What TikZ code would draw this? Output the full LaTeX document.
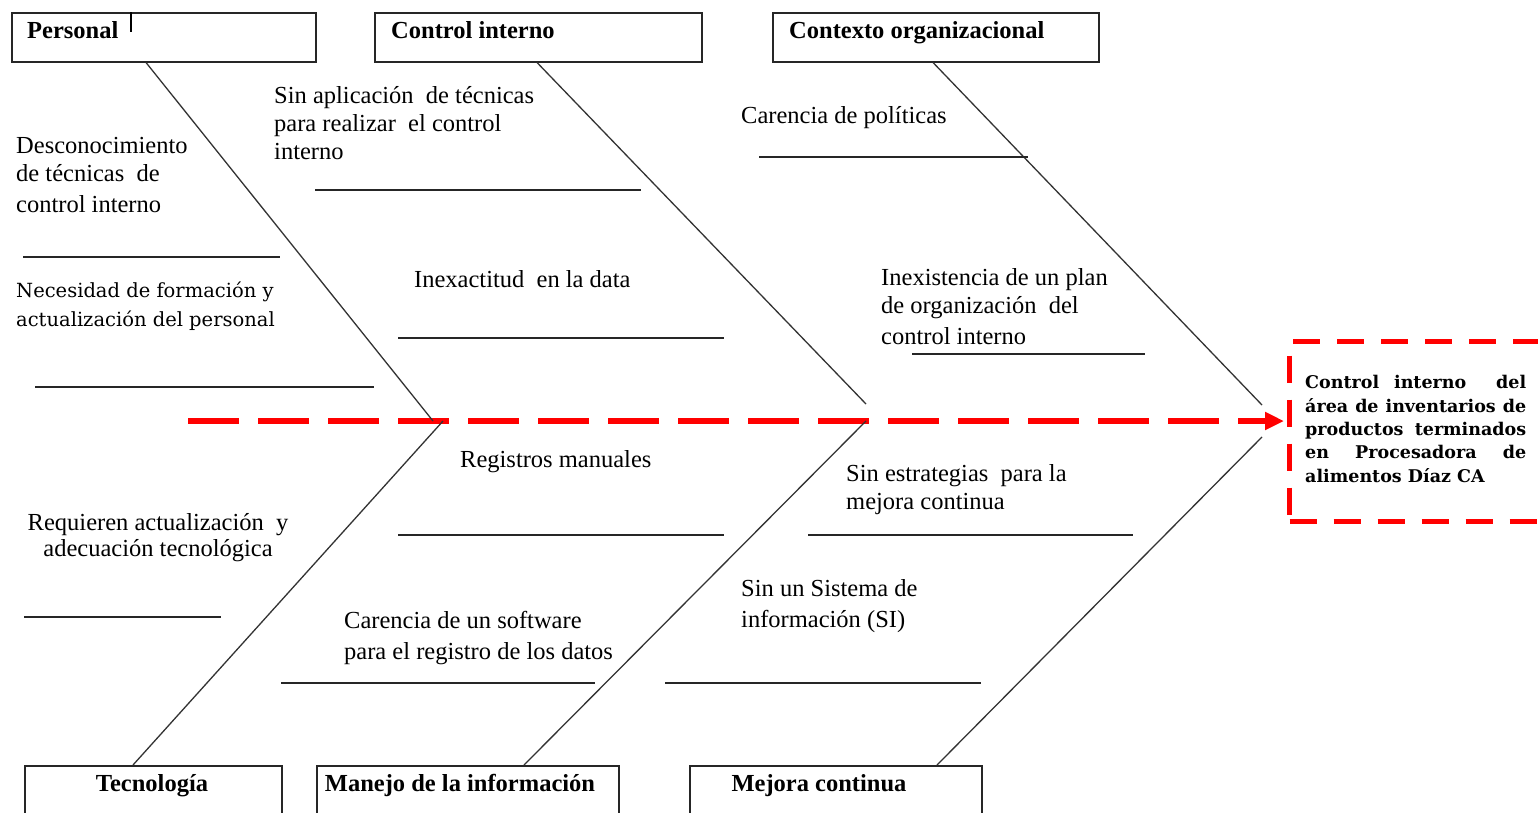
\documentclass[tikz,border=0pt]{standalone}
\usepackage{fontspec}
\setmainfont{Liberation Serif}
\newfontfamily\dvs{DejaVu Serif}
\usetikzlibrary{arrows.meta,calc}
\begin{document}
\begin{tikzpicture}[x=1pt,y=-1pt,
  box/.style={draw=black!85,line width=1.5pt,inner sep=0,anchor=north west},
  ttl/.style={font=\fontsize{24.5}{28}\selectfont\bfseries,anchor=base west,inner sep=0},
  txt/.style={font=\fontsize{24.5}{28}\selectfont,anchor=base west,align=left,inner sep=0},
  nec/.style={font=\dvs\fontsize{19.5}{29}\selectfont,anchor=base west,align=left,inner sep=0},
  bone/.style={draw=black!80,line width=1.3pt},
  sub/.style={draw=black!85,line width=1.5pt}]
\useasboundingbox (0,0) rectangle (1538,812);
\fill[white] (0,0) rectangle (1538,812);

% category boxes
\node[box,minimum width=304pt,minimum height=49pt] (pbox) at (11,12) {};
\node[box,minimum width=327pt,minimum height=49pt] (cbox) at (374,12) {};
\node[box,minimum width=326pt,minimum height=49pt] (obox) at (772,12) {};
\node[box,minimum width=257pt,minimum height=60pt] (tbox) at (24,765) {};
\node[box,minimum width=302pt,minimum height=60pt] (mbox) at (316,765) {};
\node[box,minimum width=292pt,minimum height=60pt] (ebox) at (689,765) {};

\node[ttl] (pt) at (27,38) {Personal};
\node[ttl] (ct) at (391,38) {Control interno};
\node[ttl] (ot) at (789,38) {Contexto organizacional};
\node[ttl,anchor=base] (tt) at (152,791) {Tecnología};
\node[ttl,anchor=base] (mt) at (460,791) {Manejo de la información};
\node[ttl,anchor=base] (et) at (819,791) {Mejora continua};
\draw[line width=2.5pt] (131,12) -- (131,32);

% effect box
\node[draw=red,line width=5pt,dash pattern=on 27pt off 17pt,minimum width=255pt,minimum height=180pt,anchor=north west,inner sep=0] (effect) at (1287,339) {};
\node[anchor=base west,inner sep=0,align=left,font=\dvs\bfseries\fontsize{17.5}{23.3}\selectfont] (etxt) at (1305,482)
 {\makebox[221pt][s]{Control interno\ \ del}\\
  \makebox[221pt][s]{área de inventarios de}\\
  \makebox[221pt][s]{productos terminados}\\
  \makebox[221pt][s]{en Procesadora de}\\
  \makebox[221pt][l]{alimentos Díaz CA}};

% spine
\coordinate (s0) at (188,421);
\coordinate (j1a) at (433,421);
\coordinate (j1b) at (443,421);
\coordinate (j2a) at (866,404);
\coordinate (j2b) at (866,421);
\coordinate (j3a) at (1262,405);
\coordinate (j3b) at (1262,437);
\draw[red,line width=5.5pt,dash pattern=on 51pt off 19pt,shorten >=3pt,-{Triangle[length=19pt,width=17pt]}] (s0) -- (effect.west |- s0);

% bones
\draw[bone] ($(pbox.south west)+(135,0)$) -- (j1a);
\draw[bone] ($(cbox.south west)+(163,0)$) -- (j2a);
\draw[bone] ($(obox.south west)+(161,0)$) -- (j3a);
\draw[bone] ($(tbox.north west)+(109,0)$) -- (j1b);
\draw[bone] ($(mbox.north west)+(208,0)$) -- (j2b);
\draw[bone] ($(ebox.north west)+(248,0)$) -- (j3b);

% cause lines
\draw[sub] (759,157) -- (1028,157);
\draw[sub] (315,190) -- (641,190);
\draw[sub] (23,257) -- (280,257);
\draw[sub] (398,338) -- (724,338);
\draw[sub] (912,354) -- (1145,354);
\draw[sub] (35,387) -- (374,387);
\draw[sub] (398,535) -- (724,535);
\draw[sub] (808,535) -- (1133,535);
\draw[sub] (24,617) -- (221,617);
\draw[sub] (281,683) -- (595,683);
\draw[sub] (665,683) -- (981,683);

% causes (anchor = baseline of last line)
\node[txt] (c1) at (16,212) {Desconocimiento\\de técnicas\ \ de\\[3pt]control interno};
\node[txt] (c2) at (274,159) {Sin aplicación\ \ de técnicas\\para realizar\ \ el control\\interno};
\node[txt] (c3) at (741,123) {Carencia de políticas};
\node[txt] (c4) at (414,287) {Inexactitud\ \ en la data};
\node[txt] (c5) at (881,344) {Inexistencia de un plan\\de organización\ \ del\\[3pt]control interno};
\node[nec] (c6) at (16,326) {Necesidad de formación y\\actualización del personal};
\node[txt] (c7) at (460,467) {Registros manuales};
\node[txt] (c8) at (846,509) {Sin estrategias\ \ para la\\mejora continua};
\node[txt,align=center,anchor=base] (c9) at (158,556) {Requieren actualización\ \ y\\[-2pt]adecuación tecnológica};
\node[txt] (c10) at (741,627) {Sin un Sistema de\\[3pt]información (SI)};
\node[txt] (c11) at (344,659) {Carencia de un software\\[3pt]para el registro de los datos};
\end{tikzpicture}
\end{document}
